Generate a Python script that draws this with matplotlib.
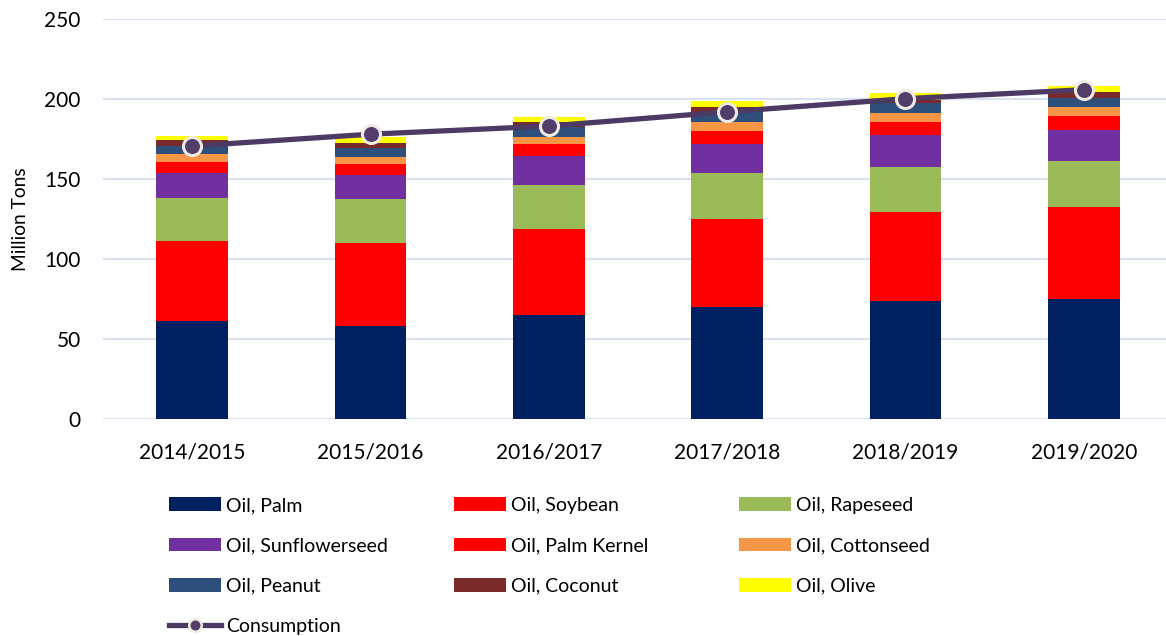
import numpy as np
import matplotlib.pyplot as plt
from matplotlib.lines import Line2D

plt.rcParams['font.family'] = ['Lato', 'DejaVu Sans']

years = ["2014/2015", "2015/2016", "2016/2017", "2017/2018", "2018/2019", "2019/2020"]

# million tons
palm = [61.3, 58.1, 65.0, 70.0, 73.8, 75.0]
soybean = [50.0, 52.0, 53.8, 55.0, 55.7, 57.5]
rapeseed = [27.0, 27.5, 27.5, 28.9, 28.1, 28.5]
sunflower = [15.7, 15.0, 18.3, 18.2, 19.8, 19.6]
palm_kernel = [6.4, 6.9, 7.3, 7.9, 8.5, 9.0]
cottonseed = [5.0, 4.1, 4.5, 5.6, 5.6, 5.6]
peanut = [5.4, 5.9, 5.8, 6.1, 5.9, 5.6]
coconut = [3.8, 3.3, 3.6, 3.5, 2.1, 3.8]
olive = [2.5, 3.7, 3.2, 3.6, 4.1, 3.7]
consumption = [170.6, 178.0, 183.1, 192.0, 200.2, 205.8]

series = [
    ("Oil, Palm", palm, "#002060"),
    ("Oil, Soybean", soybean, "#ff0000"),
    ("Oil, Rapeseed", rapeseed, "#9bbb59"),
    ("Oil, Sunflowerseed", sunflower, "#7030a0"),
    ("Oil, Palm Kernel", palm_kernel, "#ff0000"),
    ("Oil, Cottonseed", cottonseed, "#f79646"),
    ("Oil, Peanut", peanut, "#2e4f7c"),
    ("Oil, Coconut", coconut, "#7a2a2a"),
    ("Oil, Olive", olive, "#ffff00"),
]

fig = plt.figure(figsize=(11.66, 6.36), dpi=100)
ax = fig.add_axes([103/1166, 217/636, 1070/1166, 400/636])

x = np.arange(len(years))
bottom = np.zeros(len(years))
handles = {}
for name, vals, col in series:
    b = ax.bar(x, vals, 0.403, bottom=bottom, color=col, linewidth=0, zorder=2)
    handles[name] = b
    bottom += np.array(vals)

line_col = "#4d3a64"
ax.plot(x, consumption, color=line_col, lw=3.8, marker='o', ms=13,
        mfc="#523d6b", mec="#efebe2", mew=2.2, zorder=4)
cons_handle = Line2D([], [], color=line_col, lw=3.8, marker='o', ms=9,
                     mfc="#523d6b", mec="#efebe2", mew=1.8)

ax.set_xlim(-0.5, 5.5)
ax.set_ylim(0, 250)
ax.set_yticks([0, 50, 100, 150, 200, 250])
ax.set_xticks(x)
ax.set_xticklabels(years)
ax.tick_params(length=0, labelsize=15)
ax.tick_params(axis='x', pad=17)
ax.tick_params(axis='y', pad=16)
ax.grid(axis='y', color="#d9e2f0", lw=1.5, zorder=0)
for s in ax.spines.values():
    s.set_visible(False)
ax.set_ylabel("Million Tons", fontsize=13.8)
ax.yaxis.set_label_coords(-74/1070, 0.5)

cols = [
    (169, ["Oil, Palm", "Oil, Sunflowerseed", "Oil, Peanut", "Consumption"]),
    (454, ["Oil, Soybean", "Oil, Palm Kernel", "Oil, Coconut"]),
    (739, ["Oil, Rapeseed", "Oil, Cottonseed", "Oil, Olive"]),
]
for xpos, names in cols:
    hs = [cons_handle if n == "Consumption" else handles[n] for n in names]
    fig.legend(hs, names, loc='upper left', bbox_to_anchor=(xpos/1166, 1 - 497/636),
               frameon=False, fontsize=14, handlelength=2.65, handletextpad=0.3,
               labelspacing=1.2, borderpad=0, borderaxespad=0)

fig.savefig("out.png", dpi=100)
